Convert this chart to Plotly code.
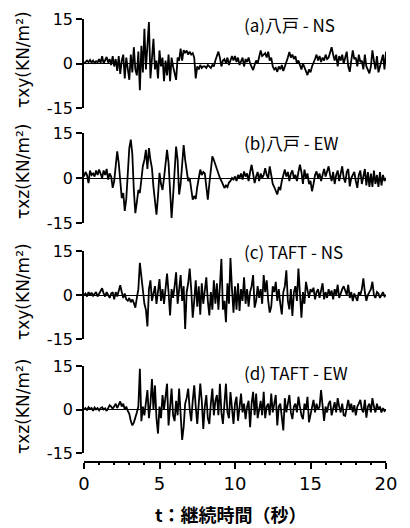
import numpy as np
import plotly.graph_objects as go

# time axis (s), 0.1 s step
t = [round(i * 0.1, 1) for i in range(201)]

hachinohe_ns = [
    0, 0.5, 1, 0.5, 1.2, 0.3, 1, 0.2, 0.8, 0.4,
    1.5, 0.2, 2.5, 0, 1, 2.2, 0.3, 1.5, -0.5, 2.5,
    -1, 1.5, -2.5, 2.5, -3.5, 1, 3, -5, 2, -2,
    -5.5, 3, -3, 5.5, -2, -4, 4, -9, 6, -3,
    11.7, -2, 5, 14, -5, 3, 8.3, -2, 1, -5,
    4.4, -1, 2, -6, 1, -4, 3, -6, 2, -1,
    -3, -5.5, 2, 1, 5, 1, 4.5, 3.5, 4.4, 3,
    4, 3, 3.5, 2, -5, -1, -2, -0.5, -1.5, -1,
    -1, -1.5, -0.5, -1, -1.5, -0.5, -1, 1, 2.5, 4,
    2, -1, 1, 1.5, 0, 2, -0.5, 1.5, 2.5, 1,
    2.5, 0.5, 2, -0.5, 1, 2, -1, 1.5, 0.5, 2,
    0, -1, -2.2, -0.5, 1, 0, 2, 4.4, 2.5, 3,
    3.5, 2, 4, 1, 2, -1, -2, -1.5, -2.8, -1,
    -2, -0.5, -2.5, -1, 1, 2, 3.9, 2, 3, 1.5,
    2.5, 0, 1, -1, -2, 0, -1.5, -3, -3.9, -2,
    -3, -1, 0, 1.5, 3, 1, 2.5, 0.5, 2, 1,
    3, 1.5, 2, 4, 5.5, 3, 1, 3, -1, 2.5,
    1, 3, 0, 2, 4, -1, -2.8, 1, 4.4, 1.5,
    2, -1, 3, 0.5, 1, -2, 3, -1, -2, -3.3,
    -1, 4.4, 1, -2, 2.5, -3, -1, 1, 3, -2,
    4,
]

hachinohe_ew = [
    0.5, 2, 1, -1.7, 2.5, 1, 1.5, 0.5, 2.5, 1,
    2.8, 1.5, 0, 2.5, 1, 3, -0.5, 1.5, 0.5, -3.3,
    -1, 4, 8.9, 5, -2, -6.7, -5, -11, -7, 2,
    10, 12.8, 8, -4, -11.7, -8, -4, -5, 0, 4,
    6, 9.4, 3, 10, 6, 3.3, -3, -8, -12.2, -6,
    1.7, -2, -4, 0, 4, 9.4, 5, -3, -13.3, -6,
    2, 10.5, 6, -5.5, -2, 4, 11, 6, 2, -1,
    0, -3, -7.2, -6, -7, -3, 0, 2.8, 1, 2,
    1.5, -3, -7.2, -2, 3, 7.2, 6, 4.5, 3, 1,
    0, -1, -2, -3.3, -2.5, -3, -1.5, -1, 0, -0.5,
    0.5, -1, 1, 0, 1.5, -0.5, 2.2, 0.5, 1.5, -1,
    2, 4.4, 1.5, -1.7, 0.5, 2, -1, 1.5, 0, 1,
    3.3, 1, 0, 3.9, 1, -2, -3, -4.5, -5.5, -3,
    -4, -1, 1, 2.8, 0.5, 2, -1, 1.5, 2.5, 0,
    1, -1, 2, 4.4, 2, -2, 2.8, 0, 1.5, -2,
    -1, -4.4, -2, 1, 2.2, 0, 1.5, -1, 1, 3,
    0.5, 2, 3.9, 1, -1, 2, -2, 1, 2.5, -1,
    1, 3.9, 0, -1.5, 2, 3, -2.8, 0, 1, 2,
    -1, -3.3, 1, 2.5, -2, 0, 3, -2.5, 2, -3,
    1.5, -3, 2.5, -2, 1, -3, 2, -2.5, 1, -1,
    0,
]

taft_ns = [
    0, 0.5, -0.5, 1, 0, 0.8, -0.3, 0.5, 1, -0.5,
    0.5, 1, 2.3, 0.5, -0.5, 1, 0, -1, 0.5, 1,
    -1.5, 1, -0.5, 1.5, 3.3, 1, -1, 0.5, -1.5, -2,
    -1, -2.5, -1.5, -2.7, -4.3, -1, 2, 11, 6, 1,
    -3, -5, -10.7, 2, 5, -2, 1, 3, -3, 1,
    5.4, -2, 2, -3, 3, 7.3, 1, -7, 2, -1,
    3, 7.7, -3, 1, 6.8, -2, 3, -11.6, 1, 4,
    9, 2, -7.7, -2, 5, -4, 3, -6.7, 4, -3,
    2, 6, -2, -7, 1, -5, 5, -3, 4, -5,
    3, 12.3, -5, -2, -9.3, 4, -3, 12.6, 2, -6,
    3, -5, 4, -5.4, 2, -2, 6, -3, 2, -4,
    1, 3, 6.8, -4.3, -2, 3, -1, 2, -3, 6.8,
    1, 5, -2, -6, -4, 3, 1, 4.5, -2, 2,
    -3, -6.6, 1, 3, 8.4, -2, -4.9, 2, -7.1, 1,
    3, -2, 9, 2, -7.7, 1, -3, 4.5, 1, -1,
    2, 1, 2.5, -1.5, 1, 2, -1, 1, 4, -1.5,
    1, -1, 2, 0, 1.5, -1.5, 2, 0, 3.5, -1,
    1, 2, 3, 1, 0, 3.5, -1, 1, -2.1, 0.5,
    -1, -2, 1, 0, 2, 5.7, 1, -2, 0, 1,
    2, 4.5, 0, -1, 1, 0.5, -1, 0, 1, -0.5,
    0,
]

taft_ew = [
    0, 0.5, -0.3, 0.8, 0.2, 0.5, -0.5, 0.7, 0, 0.5,
    -0.3, 0.5, 0.8, 0, 0.4, -0.5, 0.5, 1.5, 1, 0.3,
    1, 2, 0.5, 1.5, 2.8, 1, 2, 0, 1, -0.5,
    -1.5, -4, -5.5, -4.5, -3, -1, 1, 14, -4, 1,
    -2, 3, 6.7, -3, 2, 10.5, 0, 8.3, -3, -8.3,
    1, -3, 5, 0, 4, 8.9, -5.5, 2, 7.2, -2,
    -4, 3, -2, 7.2, 0, -10.5, -6, 2, 4, 7.2,
    0, -4, 3, 8.3, 1, -5, 2, 8.9, 3, -6.7,
    1, 5, -3, -5, 2, 7.2, -2, 3, 5, -2,
    8.9, -1, -5, 2, 8.9, -1, -3, 6, 1, -5,
    2, 4.4, -3.9, 1, 5.5, -1, 2, -3.3, 1, 3,
    -6.1, 2, 6.1, -2, 5.5, -3, 1, 3, -2, 6.1,
    -3, 1, 2, -2, 5.5, -1, 2, 5, -5.5, 1,
    2, -2, -7.2, 3.9, -1, 2, 5, -1, -3.3, 1,
    2, -1, 4.4, 1, -2, -3.3, 2, 0, 4.4, -4.4,
    -2, 1, 3.3, -1, 2, 0, 1, 6.7, 2, -3.9,
    1, -1, 2, 3, -2, 1, 2.5, -1, 3.9, 1,
    -1, 2, -2, -2.2, 1, 3.3, 0, 2, -1, 1.5,
    -2, 1, 2, 3.3, 0, -1, 3.3, -2.8, 1, 2,
    -1, 3.9, 1, -1, 2, 0, 1, -1, 0.5, -0.5,
    0,
]

series = [hachinohe_ns, hachinohe_ew, taft_ns, taft_ew]
panel_labels = ["(a)八戸 - NS", "(b)八戸 - EW", "(c) TAFT - NS", "(d) TAFT - EW"]
y_titles = ["τxy(KN/m²)", "τxz(KN/m²)", "τxy(KN/m²)", "τxz(KN/m²)"]
y_ticks = [-15, 0, 15]
x_ticks = [0, 5, 10, 15, 20]
x_title = "t：継続時間（秒）"

# page places the figure at (8, 8) because of the default body margin
OFF = 8
W, H = 410 - OFF, 528 - OFF
x0_px, x1_px = 84, 386
# panel pixel extents in page coordinates (top=+15, bottom=-15)
panels_px = [(19, 108), (133, 223), (251, 339), (366, 453)]
title_centers_px = [60, 172, 292, 407]
label_y_px = [25, 142, 251, 372]
xaxis_y_px = 462

def px_x(p):
    return (p - OFF) / W

def px_y(p):
    return 1 - (p - OFF) / H

fig = go.Figure()
FONT = "DejaVu Sans, Liberation Sans, sans-serif"
CJK = "Noto Sans CJK JP, DejaVu Sans, sans-serif"

for i, s in enumerate(series):
    n = i + 1
    xa = "x" if n == 1 else f"x{n}"
    ya = "y" if n == 1 else f"y{n}"
    fig.add_trace(go.Scatter(x=t, y=s, mode="lines",
                             line=dict(color="black", width=1.8),
                             xaxis=xa, yaxis=ya, showlegend=False,
                             hoverinfo="skip"))
    top, bot = panels_px[i]
    yk = "yaxis" if n == 1 else f"yaxis{n}"
    xk = "xaxis" if n == 1 else f"xaxis{n}"
    fig.layout[yk] = dict(domain=[px_y(bot), px_y(top)], range=[-15, 15],
                          anchor=xa, showline=True, linecolor="black",
                          linewidth=1.6, ticks="outside", ticklen=6,
                          tickwidth=1.6, tickcolor="black",
                          tickvals=y_ticks, ticktext=["-15", "0", "15"],
                          tickfont=dict(size=16, color="black", family=FONT),
                          showgrid=False, zeroline=True, zerolinecolor="black",
                          zerolinewidth=1.2, fixedrange=True, automargin=False)
    if n < 4:
        fig.layout[xk] = dict(domain=[px_x(x0_px), px_x(x1_px)], range=[0, 20],
                              anchor=ya, visible=False, showgrid=False,
                              zeroline=False, automargin=False)
    else:
        fig.layout[xk] = dict(domain=[px_x(x0_px), px_x(x1_px)], range=[0, 20],
                              anchor="free", position=px_y(xaxis_y_px),
                              showline=True, linecolor="black", linewidth=1.6,
                              ticks="outside", ticklen=6, tickwidth=1.6,
                              tickcolor="black", tickvals=x_ticks,
                              ticktext=[str(v) for v in x_ticks],
                              tickfont=dict(size=18, color="black", family=FONT),
                              minor=dict(ticks="outside", ticklen=2,
                                         dtick=1, tickcolor="black"),
                              showgrid=False, zeroline=False, automargin=False)
    fig.add_annotation(text=panel_labels[i], xref="paper", yref="paper",
                       x=px_x(242), y=px_y(label_y_px[i]), xanchor="left",
                       yanchor="middle", showarrow=False,
                       font=dict(size=17, color="black", family=CJK))
    fig.add_annotation(text=y_titles[i], xref="paper", yref="paper",
                       x=px_x(23), y=px_y(title_centers_px[i]), xanchor="center",
                       yanchor="middle", textangle=-90, showarrow=False,
                       font=dict(size=17, color="black", family=FONT))

fig.add_annotation(text="<b>" + x_title + "</b>", xref="paper", yref="paper",
                   x=px_x(231), y=px_y(514), xanchor="center", yanchor="middle",
                   showarrow=False,
                   font=dict(size=18, color="black", family=CJK))

fig.update_layout(width=W, height=H, margin=dict(l=0, r=0, t=0, b=0),
                  paper_bgcolor="white", plot_bgcolor="white")
fig.write_html("out.html")
